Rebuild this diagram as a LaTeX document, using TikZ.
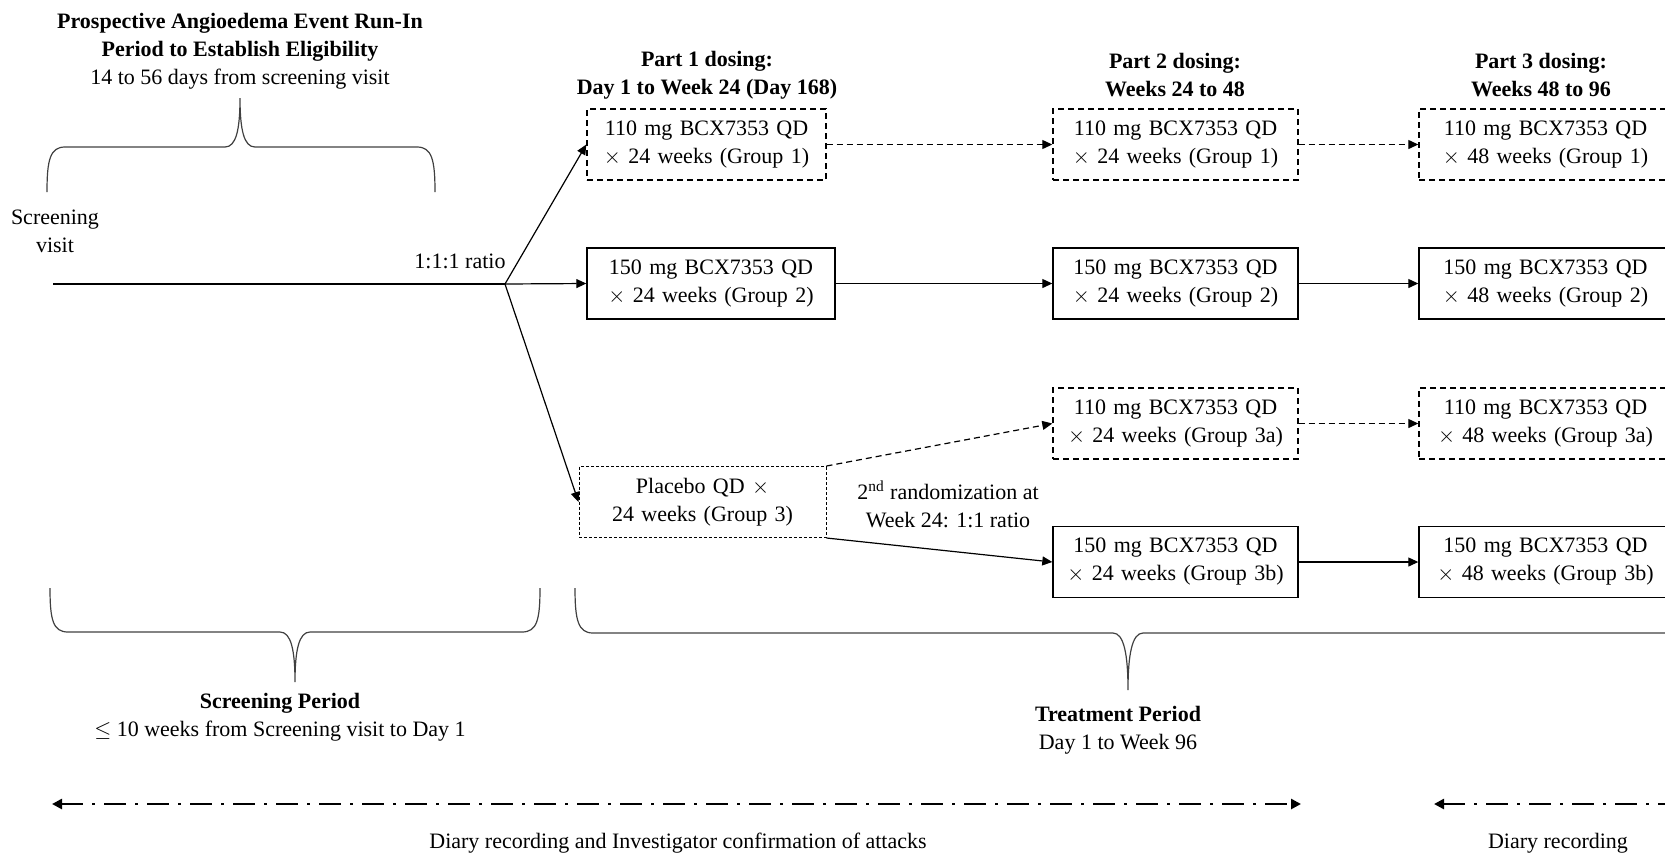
\documentclass[tikz,border=0pt]{standalone}
\usepackage{fontspec}
\setmainfont{Liberation Serif}
\usetikzlibrary{arrows.meta,positioning}

\begin{document}
\begin{tikzpicture}[x=0.5pt,y=-0.5pt,
	every node/.style={font=\fontsize{11}{14}\selectfont, align=center, inner sep=0pt},
	dosebox/.style={draw, line width=0.7pt, minimum height=35.5pt},
	optbox/.style={dosebox, dash pattern=on 3pt off 2pt},
	pbobox/.style={dosebox, line width=0.5pt, dash pattern=on 1.5pt off 1pt},
	flow/.style={line width=0.6pt, -{Triangle[length=5pt,width=4.5pt]}},
	optflow/.style={flow, dash pattern=on 3pt off 2pt},
	curly/.style={line width=0.6pt, black!75},
	diary/.style={line width=1.3pt, dash pattern=on 11pt off 4.5pt on 1.5pt off 4.5pt},
	]
	\useasboundingbox (0,0) rectangle (1665,853);

	% run-in period and screening visit
	\node (runin) at (240,51) {\bfseries Prospective Angioedema Event Run-In\\
		\bfseries Period to Establish Eligibility\\14 to 56 days from screening visit};
	\draw[curly] (47,192) .. controls (47,160) and (50,147) .. (65,147) -- (225,147)
		.. controls (236,147) and (240,130) .. (240,98)
		.. controls (240,130) and (244,147) .. (255,147) -- (417,147)
		.. controls (432,147) and (435,160) .. (435,192);
	\node (visit) at (55,231) {Screening\\visit};
	\node (ratio) at (460,261) {1:1:1 ratio};
	\coordinate (start) at (53,284);
	\coordinate (branch) at (505,284);

	% headers
	\node (part1) at (707,75) {\bfseries Part 1 dosing:\\\bfseries Day 1 to Week 24 (Day 168)};
	\node (part2) at (1175,75) {\bfseries Part 2 dosing:\\\bfseries Weeks 24 to 48};
	\node (part3) at (1541,75) {\bfseries Part 3 dosing:\\\bfseries Weeks 48 to 96};

	% part 1
	\node[optbox, text width=119.5pt] (g1a) at (706.5,144.5) {110 mg BCX7353 QD\\$\times$ 24 weeks (Group 1)};
	\node[dosebox, text width=124pt] (g2a) at (711,283.5) {150 mg BCX7353 QD\\$\times$ 24 weeks (Group 2)};
	\node[pbobox, text width=123.5pt] (g3a) at (702.5,502) {Placebo QD $\times$\\24 weeks (Group 3)};
	\node (rerand) at (948,504) {2\textsuperscript{nd} randomization at\\Week 24: 1:1 ratio};

	% part 2
	\node[optbox, text width=122.5pt] (g1b) at (1175.5,144.5) {110 mg BCX7353 QD\\$\times$ 24 weeks (Group 1)};
	\node[dosebox, text width=122.5pt] (g2b) at (1175.5,283.5) {150 mg BCX7353 QD\\$\times$ 24 weeks (Group 2)};
	\node[optbox, text width=122.5pt] (g3ab) at (1175.5,423.5) {110 mg BCX7353 QD\\$\times$ 24 weeks (Group 3a)};
	\node[dosebox, text width=122.5pt] (g3bb) at (1175.5,562) {150 mg BCX7353 QD\\$\times$ 24 weeks (Group 3b)};

	% part 3
	\node[optbox, text width=126.5pt] (g1c) at (1545.5,144.5) {110 mg BCX7353 QD\\$\times$ 48 weeks (Group 1)};
	\node[dosebox, text width=126.5pt] (g2c) at (1545.5,283.5) {150 mg BCX7353 QD\\$\times$ 48 weeks (Group 2)};
	\node[optbox, text width=126.5pt] (g3ac) at (1545.5,423.5) {110 mg BCX7353 QD\\$\times$ 48 weeks (Group 3a)};
	\node[dosebox, text width=126.5pt] (g3bc) at (1545.5,562) {150 mg BCX7353 QD\\$\times$ 48 weeks (Group 3b)};

	% connectors
	\draw[line width=0.6pt] (start) -- (branch);
	\draw[flow] (branch) -- (g1a.west);
	\draw[flow] (branch) -- (g2a.west);
	\draw[flow] (branch) -- (g3a.west);
	\draw[optflow] (g1a) -- (g1b);
	\draw[flow] (g2a) -- (g2b);
	\draw[optflow] (g3a.north east) -- (g3ab.west);
	\draw[flow] (g3a.south east) -- (g3bb.west);
	\draw[optflow] (g1b) -- (g1c);
	\draw[flow] (g2b) -- (g2c);
	\draw[optflow] (g3ab) -- (g3ac);
	\draw[flow] (g3bb) -- (g3bc);

	% periods
	\draw[curly] (50,588) .. controls (50,620) and (53,632) .. (68,632) -- (280,632)
		.. controls (291,632) and (295,650) .. (295,682)
		.. controls (295,650) and (299,632) .. (310,632) -- (522,632)
		.. controls (537,632) and (540,620) .. (540,588);
	\node (screen) at (280,717) {\bfseries Screening Period\\$\leq$ 10 weeks from Screening visit to Day 1};
	\draw[curly] (575,588) .. controls (575,620) and (578,633) .. (593,633) -- (1113,633)
		.. controls (1124,633) and (1128,655) .. (1128,690)
		.. controls (1128,655) and (1132,633) .. (1143,633) -- (1663,633)
		.. controls (1678,633) and (1681,620) .. (1681,588);
	\node (treat) at (1118,730) {\bfseries Treatment Period\\Day 1 to Week 96};

	% diary recording
	\coordinate (d1l) at (52,804);
	\coordinate (d1r) at (1301,804);
	\coordinate (d2l) at (1434,804);
	\coordinate (d2r) at (1700,804);
	\draw[diary, {Triangle[length=5pt,width=5pt]}-{Triangle[length=5pt,width=5pt]}] (d1l) -- (d1r);
	\draw[diary, {Triangle[length=5pt,width=5pt]}-] (d2l) -- (d2r);
	\node (diary1) at (678,843) {Diary recording and Investigator confirmation of attacks};
	\node (diary2) at (1558,843) {Diary recording};
\end{tikzpicture}
\end{document}
